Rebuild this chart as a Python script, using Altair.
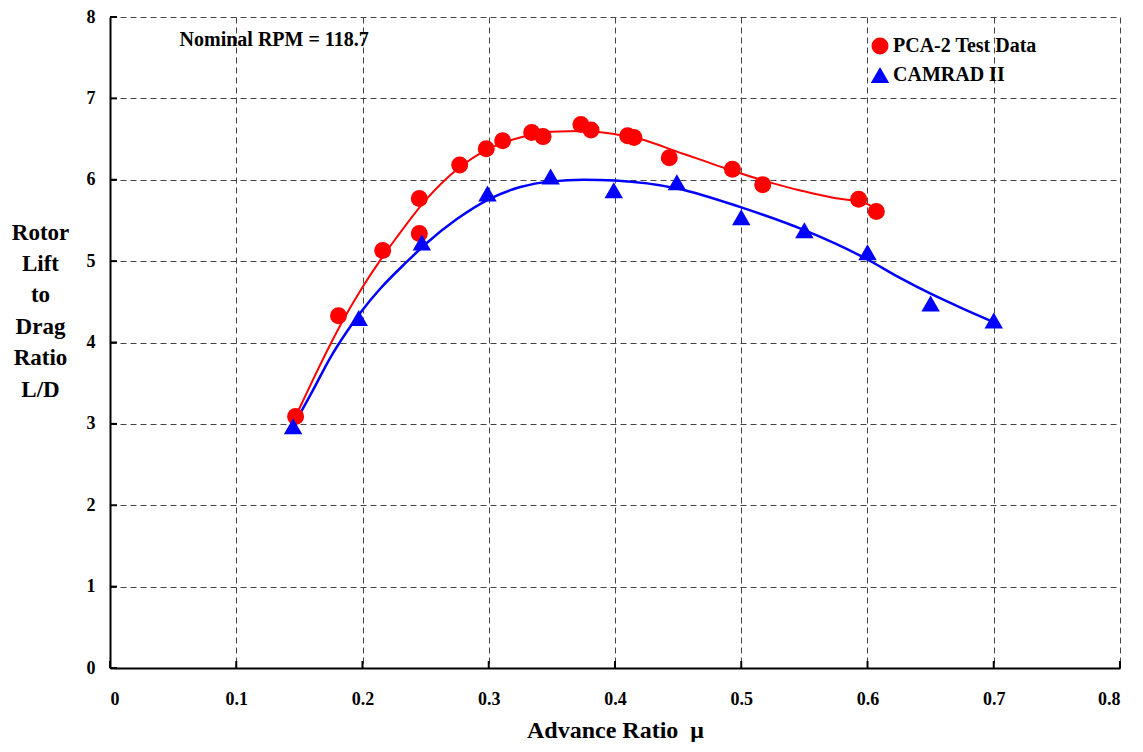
import altair as alt
import pandas as pd

# PCA-2 test data
red_mu = [0.147, 0.181, 0.216, 0.245, 0.245, 0.277, 0.298, 0.311, 0.334, 0.343,
          0.373, 0.381, 0.410, 0.415, 0.443, 0.493, 0.517, 0.593, 0.607]
red_ld = [3.09, 4.33, 5.13, 5.77, 5.34, 6.18, 6.38, 6.48, 6.58, 6.53,
          6.68, 6.61, 6.54, 6.52, 6.27, 6.13, 5.94, 5.76, 5.61]

# CAMRAD II
cam_mu = [0.145, 0.197, 0.247, 0.299, 0.349, 0.399, 0.449, 0.500, 0.550, 0.600, 0.650, 0.700]
cam_ld = [2.97, 4.30, 5.23, 5.83, 6.04, 5.87, 5.97, 5.54, 5.38, 5.11, 4.48, 4.27]

# smooth curves
red_fit_mu = [0.147, 0.161, 0.174, 0.187, 0.2, 0.214, 0.227, 0.25, 0.275, 0.3, 0.325,
              0.35, 0.375, 0.4, 0.42, 0.45, 0.467, 0.493, 0.52, 0.546, 0.573, 0.6, 0.607]
red_fit_ld = [3.09, 3.55, 3.96, 4.34, 4.68, 5.01, 5.29, 5.75, 6.13, 6.38, 6.52,
              6.59, 6.60, 6.56, 6.50, 6.34, 6.25, 6.11, 5.98, 5.87, 5.78, 5.70, 5.63]
cam_fit_mu = [0.145, 0.161, 0.174, 0.187, 0.2, 0.214, 0.235, 0.25, 0.275, 0.3, 0.325,
              0.35, 0.375, 0.4, 0.45, 0.5, 0.55, 0.6, 0.625, 0.65, 0.675, 0.7]
cam_fit_ld = [2.97, 3.42, 3.80, 4.12, 4.40, 4.66, 4.99, 5.21, 5.52, 5.76, 5.91,
              5.98, 6.00, 5.99, 5.89, 5.66, 5.38, 5.02, 4.80, 4.60, 4.42, 4.25]

series_names = ["PCA-2 Test Data", "CAMRAD II"]
x_ticks = [0, 0.1, 0.2, 0.3, 0.4, 0.5, 0.6, 0.7, 0.8]
y_ticks = [0, 1, 2, 3, 4, 5, 6, 7, 8]

note_text = ["Nominal RPM = 118.7"]
note_mu = [0.13]
note_ld = [7.72]

FONT = "Liberation Serif"
W, H = 1010, 651

pts = pd.DataFrame({
    "mu": red_mu + cam_mu,
    "ld": red_ld + cam_ld,
    "series": [series_names[0]] * len(red_mu) + [series_names[1]] * len(cam_mu),
})
red_fit = pd.DataFrame({"mu": red_fit_mu, "ld": red_fit_ld})
cam_fit = pd.DataFrame({"mu": cam_fit_mu, "ld": cam_fit_ld})
xt = pd.DataFrame({"mu": x_ticks})
yt = pd.DataFrame({"ld": y_ticks})
note = pd.DataFrame({"mu": note_mu, "ld": note_ld, "t": note_text})

xscale = alt.Scale(domain=[0, 0.8], nice=False, zero=False)
yscale = alt.Scale(domain=[0, 8], nice=False, zero=False)

xax = alt.Axis(values=x_ticks, title="Advance Ratio \u00a0\u03bc",
               labelExpr="datum.value == 0 ? '0' : format(datum.value, '.1f')",
               labelPadding=22, titlePadding=10, tickSize=0, titleFontSize=24)
yax = alt.Axis(values=y_ticks, format="d",
               title=["Rotor", "Lift", "to", "Drag", "Ratio", "L/D"],
               titleAngle=0, titleAlign="center", titleBaseline="middle",
               titleX=-70, titleY=215, titleLineHeight=31.4, titleFontSize=23,
               labelPadding=15, tickSize=0)

X = alt.X("mu:Q", scale=xscale, axis=xax)
Y = alt.Y("ld:Q", scale=yscale, axis=yax)

red_line = alt.Chart(red_fit).mark_line(color="#FF0000", strokeWidth=2, interpolate="monotone").encode(
    x=X, y=Y)
cam_line = alt.Chart(cam_fit).mark_line(color="#0000FF", strokeWidth=2.5, interpolate="monotone").encode(
    x=alt.X("mu:Q", scale=xscale), y=alt.Y("ld:Q", scale=yscale))

leg = alt.Legend(title=None, orient="none", legendX=760, legendY=19,
                 labelFont=FONT, labelFontSize=20, labelFontWeight="bold",
                 labelColor="black", symbolSize=180, rowPadding=9,
                 labelOffset=3, symbolStrokeWidth=0)

points = alt.Chart(pts).mark_point(filled=True, opacity=1).encode(
    x=alt.X("mu:Q", scale=xscale),
    y=alt.Y("ld:Q", scale=yscale),
    color=alt.Color("series:N",
                    scale=alt.Scale(domain=series_names, range=["#FF0000", "#0000FF"]),
                    legend=leg),
    shape=alt.Shape("series:N",
                    scale=alt.Scale(domain=series_names, range=["circle", "triangle-up"]),
                    legend=leg),
    size=alt.Size("series:N",
                  scale=alt.Scale(domain=series_names, range=[289, 340]),
                  legend=None),
)

xtick_marks = alt.Chart(xt).mark_rule(color="black", strokeWidth=2).encode(
    x=alt.X("mu:Q", scale=xscale), y=alt.value(H), y2=alt.value(H - 7))
ytick_marks = alt.Chart(yt).mark_rule(color="black", strokeWidth=2).encode(
    y=alt.Y("ld:Q", scale=yscale), x=alt.value(0), x2=alt.value(7))

note_mark = alt.Chart(note).mark_text(font=FONT, fontSize=20, fontWeight="bold",
                                      color="black", align="center", baseline="middle").encode(
    x=alt.X("mu:Q", scale=xscale), y=alt.Y("ld:Q", scale=yscale), text="t:N")

chart = alt.layer(red_line, cam_line, points, xtick_marks, ytick_marks, note_mark).properties(
    width=W, height=H,
    autosize=alt.AutoSizeParams(type="none"),
    padding={"left": 102, "top": 9, "right": 15, "bottom": 74},
).configure_view(stroke=None).configure_axis(
    labelFont=FONT, labelFontSize=18, labelFontWeight="bold", labelColor="black",
    titleFont=FONT, titleFontWeight="bold", titleColor="black",
    domainColor="black", domainWidth=2,
    grid=True, gridColor="#444444", gridDash=[6, 4], gridWidth=1, gridOpacity=1,
).configure_axisX(labelAngle=0)

chart.save("out.html", embed_options={"renderer": "svg", "actions": False})
